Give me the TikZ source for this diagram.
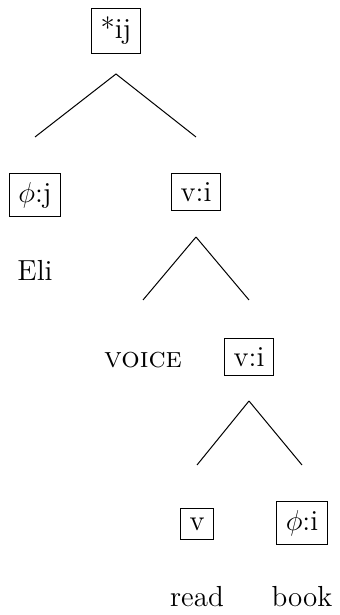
\documentclass[tikz,border=0pt]{standalone}
\usepackage{fontspec}
\tikzstyle{feat} = [rectangle, draw=black, inner sep=4.5pt, line width=0.5pt]
\tikzstyle{word} = [inner sep=0pt]
\tikzstyle{branch} = [line width=0.5pt]
\begin{document}
\begin{tikzpicture}[font=\fontsize{14.5}{17}\selectfont]
\useasboundingbox (0,0) rectangle (170pt,307.5pt);
\node (root) [feat] at (58pt,292pt) {*ij};

\node (phij) [feat, below of=root, node distance=82pt, xshift=-40.5pt] {$\phi$:j};
\node (vi1) [feat, below of=root, node distance=80.5pt, xshift=40pt] {v:i};
\node (eli) [word, below of=phij, node distance=37.5pt] {Eli};

\node (voice) [word, below of=vi1, node distance=84pt, xshift=-26.5pt] {\textsc{voice}};
\node (vi2) [feat, below of=vi1, node distance=82.5pt, xshift=26.5pt] {v:i};

\node (v) [feat, below of=vi2, node distance=83.5pt, xshift=-26pt] {v};
\node (phii) [feat, below of=vi2, node distance=83pt, xshift=26.5pt] {$\phi$:i};
\node (read) [word, below of=v, node distance=36.5pt] {read};
\node (book) [word, below of=phii, node distance=37pt] {book};

\draw [branch] ([yshift=-21.5pt]root.center) -- ([yshift=29pt]phij.center);
\draw [branch] ([yshift=-21.5pt]root.center) -- ([yshift=27.5pt]vi1.center);
\draw [branch] ([yshift=-22.5pt]vi1.center) -- ([yshift=30pt]voice.center);
\draw [branch] ([yshift=-22.5pt]vi1.center) -- ([yshift=28.5pt]vi2.center);
\draw [branch] ([yshift=-22pt]vi2.center) -- ([yshift=29.5pt]v.center);
\draw [branch] ([yshift=-22pt]vi2.center) -- ([yshift=29pt]phii.center);
\end{tikzpicture}
\end{document}
